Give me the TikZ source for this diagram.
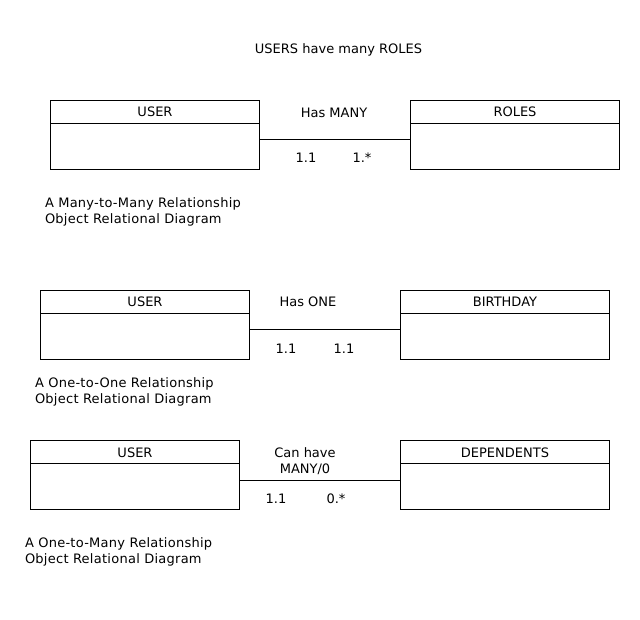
\documentclass[tikz,border=0pt]{standalone}
\usepackage{fontspec}
\setmainfont{DejaVu Sans}
\newfontfamily\capfont[LetterSpace=2]{DejaVu Sans}
\usetikzlibrary{calc}
\begin{document}
\begin{tikzpicture}[x=1pt,y=-1pt,
  every node/.style={inner sep=0pt,outer sep=0pt,font=\fontsize{13}{16}\selectfont},
  entity/.style={draw,line width=1pt,anchor=north west,minimum width=209pt,minimum height=69pt},
  lbl/.style={anchor=base},
  captxt/.style={anchor=base west,align=left,font=\capfont\fontsize{13}{16}\selectfont},
  conn/.style={line width=1pt}]
\useasboundingbox (0,0) rectangle (640,620);
\node[lbl] (title) at (338.5,53.5) {USERS have many ROLES};

% Diagram 1
\node[entity] (u1) at (50.5,100.5) {};
\node[entity] (r1) at (410.5,100.5) {};
\draw[conn] ($(u1.north west)+(0,23)$) -- ($(u1.north east)+(0,23)$);
\draw[conn] ($(r1.north west)+(0,23)$) -- ($(r1.north east)+(0,23)$);
\node[lbl] (u1t) at ($(u1.north)+(0,16.5)$) {USER};
\node[lbl] (r1t) at ($(r1.north)+(0,16.5)$) {ROLES};
\draw[conn] ($(u1.north east)+(0,39.5)$) -- ($(r1.north west)+(0,39.5)$);
\node[lbl] (l1) at (334,117.5) {Has MANY};
\node[lbl] (m1a) at (306,162.5) {1.1};
\node[lbl] (m1b) at (362,162.5) {1.*};
\node[captxt] (c1a) at (45,207.5) {A Many-to-Many Relationship};
\node[captxt] (c1b) at (45,223.5) {Object Relational Diagram};

% Diagram 2
\node[entity] (u2) at (40.5,290.5) {};
\node[entity] (b2) at (400.5,290.5) {};
\draw[conn] ($(u2.north west)+(0,23)$) -- ($(u2.north east)+(0,23)$);
\draw[conn] ($(b2.north west)+(0,23)$) -- ($(b2.north east)+(0,23)$);
\node[lbl] (u2t) at ($(u2.north)+(0,16.5)$) {USER};
\node[lbl] (b2t) at ($(b2.north)+(0,16.5)$) {BIRTHDAY};
\draw[conn] ($(u2.north east)+(0,39.5)$) -- ($(b2.north west)+(0,39.5)$);
\node[lbl] (l2) at (308,306.5) {Has ONE};
\node[lbl] (m2a) at (286,353.5) {1.1};
\node[lbl] (m2b) at (344,353.5) {1.1};
\node[captxt] (c2a) at (35,387.5) {A One-to-One Relationship};
\node[captxt] (c2b) at (35,403.5) {Object Relational Diagram};

% Diagram 3
\node[entity] (u3) at (30.5,440.5) {};
\node[entity] (d3) at (400.5,440.5) {};
\draw[conn] ($(u3.north west)+(0,23)$) -- ($(u3.north east)+(0,23)$);
\draw[conn] ($(d3.north west)+(0,23)$) -- ($(d3.north east)+(0,23)$);
\node[lbl] (u3t) at ($(u3.north)+(0,16.5)$) {USER};
\node[lbl] (d3t) at ($(d3.north)+(0,16.5)$) {DEPENDENTS};
\draw[conn] ($(u3.north east)+(0,39.5)$) -- ($(d3.north west)+(0,39.5)$);
\node[lbl] (l3a) at (305,457.5) {Can have};
\node[lbl] (l3b) at (305,473.5) {MANY/0};
\node[lbl] (m3a) at (276,503.5) {1.1};
\node[lbl] (m3b) at (336,503.5) {0.*};
\node[captxt] (c3a) at (25,547.5) {A One-to-Many Relationship};
\node[captxt] (c3b) at (25,563.5) {Object Relational Diagram};
\end{tikzpicture}
\end{document}
